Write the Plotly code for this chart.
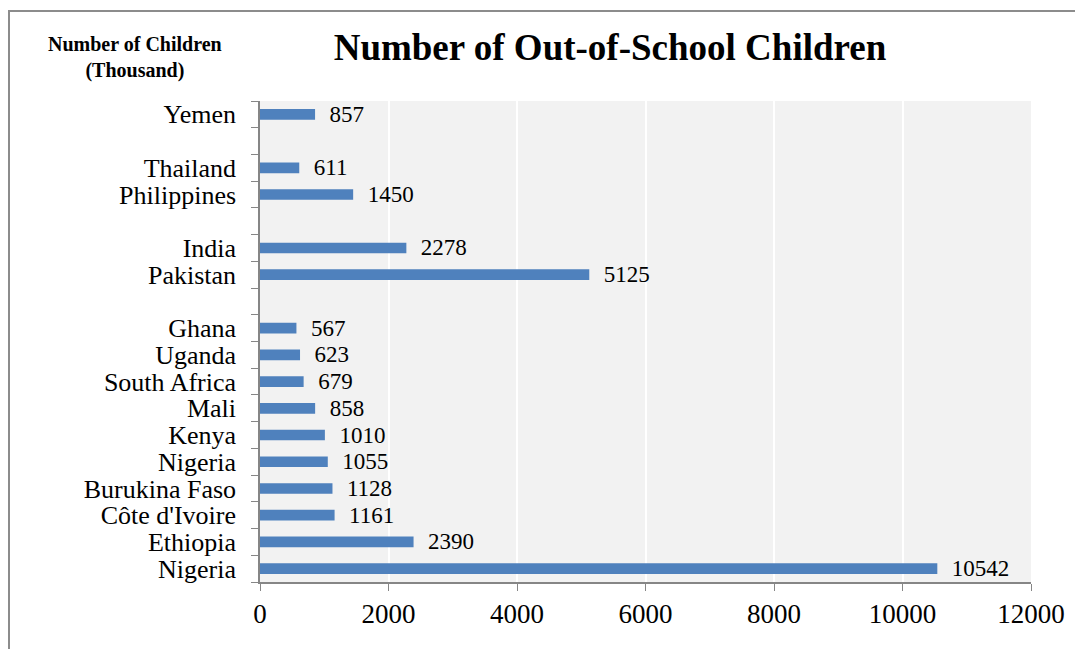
import plotly.graph_objects as go

# slots from bottom to top; "" = empty gap slot
countries = ["Nigeria", "Ethiopia", "Côte d'Ivoire", "Burukina Faso", "Nigeria",
             "Kenya", "Mali", "South Africa", "Uganda", "Ghana", "",
             "Pakistan", "India", "", "Philippines", "Thailand", "", "Yemen"]
values = [10542, 2390, 1161, 1128, 1055, 1010, 858, 679, 623, 567, None,
          5125, 2278, None, 1450, 611, None, 857]
x_ticks = [0, 2000, 4000, 6000, 8000, 10000, 12000]
x_tick_labels = ["0", "2000", "4000", "6000", "8000", "10000", "12000"]

keys = [f"slot{i}" for i in range(len(countries))]
texts = ["" if v is None else f"  {v}" for v in values]

SERIF = "Times New Roman, Liberation Serif, serif"

# page has an 8px body offset; figure coordinates below are page - 8
OFF = 8
W, H = 1083 - OFF, 649 - OFF
L, R, T, B = 260 - OFF, 52, 101 - OFF, 67
PW, PH = W - L - R, H - T - B

fig = go.Figure(go.Bar(
    y=keys, x=values, orientation="h",
    marker=dict(color="#4F81BD", line=dict(width=0)),
    width=0.4,
    text=texts, textposition="outside", cliponaxis=False, constraintext="none",
    textfont=dict(family=SERIF, size=23, color="black"),
))

fig.update_layout(
    width=W, height=H,
    margin=dict(l=L, r=R, t=T, b=B, autoexpand=False),
    paper_bgcolor="white", plot_bgcolor="#F2F2F2",
    showlegend=False,
    font=dict(family=SERIF, color="black"),
    title=dict(text="<b>Number of Out-of-School Children</b>",
               font=dict(family=SERIF, size=37, color="black"),
               xref="container", x=(610 - OFF) / W, xanchor="center",
               yref="container", y=1 - (47 - OFF) / H, yanchor="middle"),
    annotations=[dict(text="<b>Number of Children<br>(Thousand)</b>",
                      xref="paper", yref="paper",
                      x=(135 - 260) / PW, y=(582 - 57) / PH,
                      xanchor="center", yanchor="middle", showarrow=False,
                      font=dict(family=SERIF, size=20, color="black"))],
    shapes=[dict(type="rect", xref="paper", yref="paper",
                 x0=(9 - 260) / PW, x1=1.2,
                 y0=-0.3, y1=(582 - 11) / PH,
                 line=dict(color="#8C8C8C", width=2), fillcolor="rgba(0,0,0,0)",
                 layer="below")],
)

fig.update_xaxes(range=[0, 12000], tickmode="array", tickvals=x_ticks,
                 ticktext=x_tick_labels, ticks="outside", ticklen=7,
                 tickcolor="#868686", showline=True, linecolor="#868686", linewidth=1.5,
                 showgrid=True, gridcolor="white", gridwidth=1.5, zeroline=False,
                 tickfont=dict(family=SERIF, size=27, color="black"))
fig.update_yaxes(type="category", categoryorder="array", categoryarray=keys,
                 tickmode="array", tickvals=keys, ticktext=countries,
                 tickson="boundaries", ticks="outside", ticklen=7,
                 tickcolor="#868686", showline=True, linecolor="#868686", linewidth=1.5,
                 showgrid=False, ticklabelstandoff=17,
                 tickfont=dict(family=SERIF, size=26, color="black"))

fig.write_html("out.html")
